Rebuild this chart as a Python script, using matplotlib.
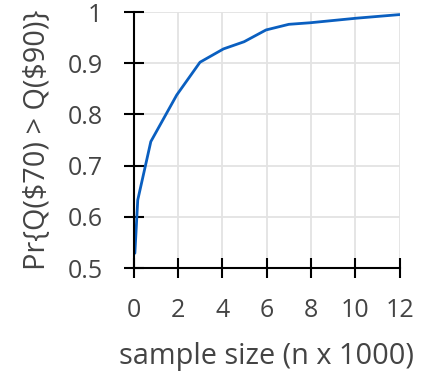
import matplotlib
matplotlib.use("Agg")
import matplotlib.pyplot as plt

# sample size in thousands and estimated probability
sample_size = [0.05, 0.18, 0.77, 1.94, 2.99, 4.05, 4.98, 5.97, 7.0, 7.95, 10.06, 12.0]
prob = [0.529, 0.633, 0.747, 0.838, 0.902, 0.928, 0.942, 0.965, 0.976, 0.979, 0.988, 0.995]

x_ticks = [0, 2, 4, 6, 8, 10, 12]
y_ticks = [0.5, 0.6, 0.7, 0.8, 0.9, 1.0]
y_tick_labels = ["0.5", "0.6", "0.7", "0.8", "0.9", "1"]

plt.rcParams["font.family"] = ["Open Sans", "DejaVu Sans"]
plt.rcParams["text.parse_math"] = False

fig = plt.figure(figsize=(4.26, 3.76), dpi=100)
ax = fig.add_axes([0.314, 0.287, 0.624, 0.681])

ax.plot(sample_size, prob, color="#0a5fc0", lw=2.0, solid_capstyle="round", zorder=3)

ax.set_xlim(0, 12)
ax.set_ylim(0.5, 1.0)
ax.set_xticks(x_ticks)
ax.set_yticks(y_ticks)
ax.set_yticklabels(y_tick_labels)

ax.grid(True, color="#e3e3e3", lw=1.3, zorder=0)
ax.set_axisbelow(True)

for side in ("top", "right"):
    ax.spines[side].set_visible(False)
for side in ("left", "bottom"):
    ax.spines[side].set_linewidth(1.5)
    ax.spines[side].set_color("black")
    ax.spines[side].set_zorder(4)

ax.tick_params(axis="both", direction="inout", length=15, width=1.5,
               colors="black", labelcolor="#444444", labelsize=18)
ax.tick_params(axis="x", pad=14)
ax.tick_params(axis="y", pad=15)

ax.set_xlabel("sample size (n x 1000)", fontsize=20.8, color="#444444", labelpad=14)
ax.set_ylabel("Pr{Q($70) > Q($90)}", fontsize=20.8, color="#444444", labelpad=11)

fig.savefig("out.png", dpi=100)
